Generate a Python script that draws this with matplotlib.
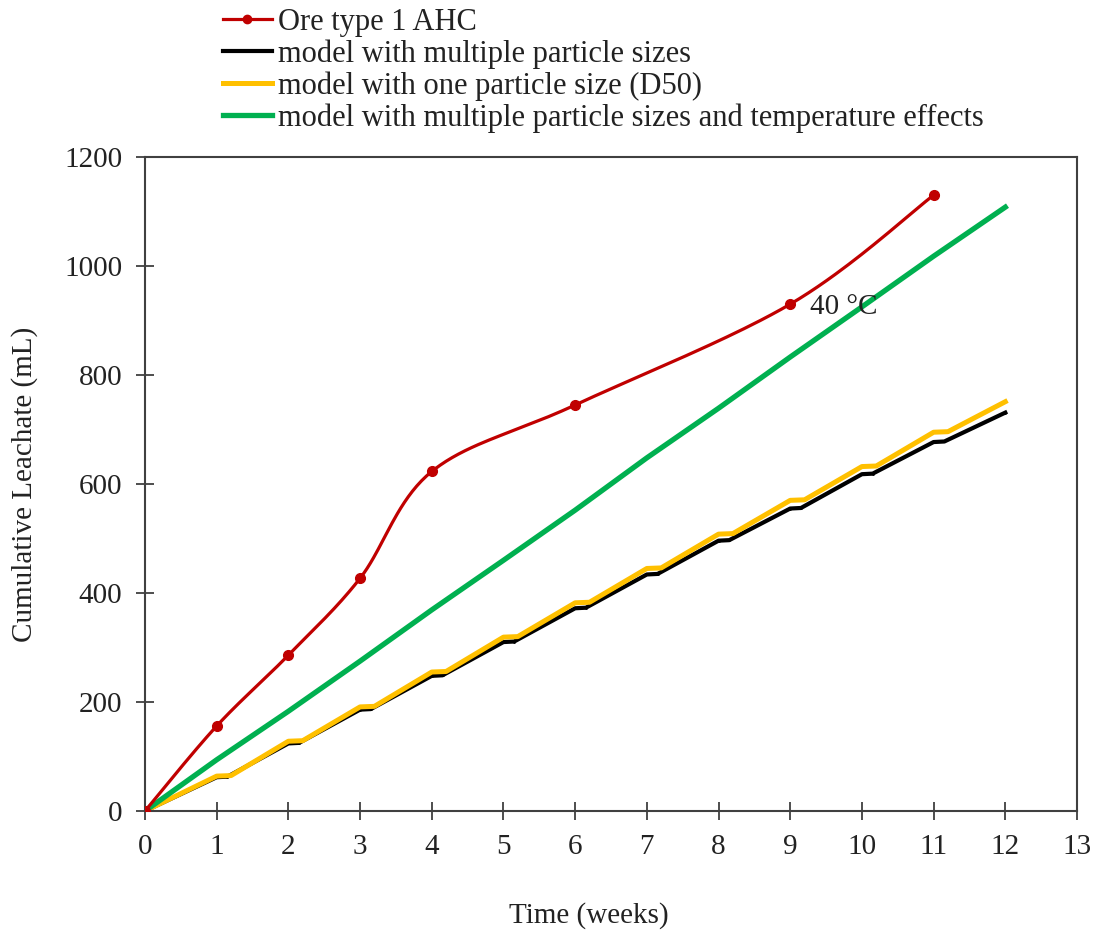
import numpy as np
import matplotlib
matplotlib.use("Agg")
import matplotlib.pyplot as plt

plt.rcParams['font.family'] = ['Liberation Serif', 'DejaVu Serif']

# --- data ---
ore_weeks = [0, 1, 2, 3, 4, 6, 9, 11]
ore_leachate = [0, 156, 286, 427, 623, 745, 930, 1130]

model_weeks = [0, 1, 2, 3, 4, 5, 6, 7, 8, 9, 10, 11, 12]
multi_size = [0, 62, 124, 186, 248, 310, 372, 434, 496, 555, 618, 677, 731]
one_size_d50 = [0, 64, 128, 191, 255, 319, 382, 445, 508, 570, 632, 695, 751]
multi_size_temp = [0, 94, 183, 275, 369, 460, 552, 648, 739, 833, 925, 1018, 1108]

xticks = list(range(0, 14))
yticks = [0, 200, 400, 600, 800, 1000, 1200]

labels = ["Ore type 1 AHC",
          "model with multiple particle sizes",
          "model with one particle size (D50)",
          "model with multiple particle sizes and temperature effects"]


def smooth_curve(xs, ys, sx=13.0, sy=1200.0, n=40):
    # Excel-like smoothing: Catmull-Rom as cubic Bezier, done in scaled space
    p = np.column_stack([np.asarray(xs, float) / sx, np.asarray(ys, float) / sy])
    out = []
    for i in range(len(p) - 1):
        p0 = p[i - 1] if i > 0 else p[i]
        p1, p2 = p[i], p[i + 1]
        p3 = p[i + 2] if i + 2 < len(p) else p[i + 1]
        c1 = p1 + (p2 - p0) / 6.0
        c2 = p2 - (p3 - p1) / 6.0
        t = np.linspace(0, 1, n)[:, None]
        seg = ((1 - t) ** 3) * p1 + 3 * ((1 - t) ** 2) * t * c1 + 3 * (1 - t) * t ** 2 * c2 + t ** 3 * p2
        out.append(seg if i == 0 else seg[1:])
    out = np.vstack(out)
    return out[:, 0] * sx, out[:, 1] * sy


def stepped(xs, ys, dx=0.2):
    # model output has a short flat bit just after each week
    px, py = [], []
    for i, (x, y) in enumerate(zip(xs, ys)):
        px.append(x)
        py.append(y)
        if 0 < i < len(xs) - 1:
            px.append(x + dx)
            py.append(y + 1)
    return px, py


fig = plt.figure(figsize=(10.93, 9.33), dpi=100)
ax = fig.add_axes([145 / 1093, 1 - 811 / 933, (1077 - 145) / 1093, (811 - 157) / 933])

sx, sy = smooth_curve(ore_weeks, ore_leachate)
ax.plot(sx, sy, color='#C00000', lw=2.3, zorder=3)
ax.plot(ore_weeks, ore_leachate, 'o', color='#C00000', ms=7, zorder=3)
h_ore, = ax.plot([], [], color='#C00000', lw=2.3, marker='o', ms=6)

bx, by = stepped(model_weeks, multi_size, 0.15)
h_multi, = ax.plot(bx, by, color='black', lw=3.0, marker='.', ms=2, zorder=2)
yx, yy = stepped(model_weeks, one_size_d50, 0.2)
h_d50, = ax.plot(yx, yy, color='#FFC000', lw=3.6, zorder=2.5)
h_temp, = ax.plot(model_weeks, multi_size_temp, color='#00B050', lw=3.8, zorder=2.7)

ax.text(9.27, 925, "40 °C", fontsize=21, va='center', ha='left', color='#222222')

ax.set_xlim(0, 13)
ax.set_ylim(0, 1200)
ax.set_xticks(xticks)
ax.set_yticks(yticks)
ax.tick_params(direction='inout', length=13, width=1.3, color='#404040',
               labelsize=21, pad=10, labelcolor='#222222')
for s in ax.spines.values():
    s.set_color('#404040')
    s.set_linewidth(1.5)

ax.set_xlabel("Time (weeks)", fontsize=21, color='#222222')
ax.xaxis.set_label_coords((589 - 145) / (1077 - 145), -(902 - 811) / (811 - 157))
ax.set_ylabel("Cumulative Leachate (mL)", fontsize=21, color='#222222')
ax.yaxis.set_label_coords(-(145 - 38) / (1077 - 145), 0.5)

fig.legend([h_ore, h_multi, h_d50, h_temp], labels, loc='upper left',
           bbox_to_anchor=(223 / 1093, 1 - 8 / 933), frameon=False, fontsize=22,
           handlelength=1.6, handletextpad=0.2, labelspacing=0.08,
           borderpad=0, borderaxespad=0, labelcolor='#222222')

fig.savefig("out.png", dpi=100, facecolor='white')
